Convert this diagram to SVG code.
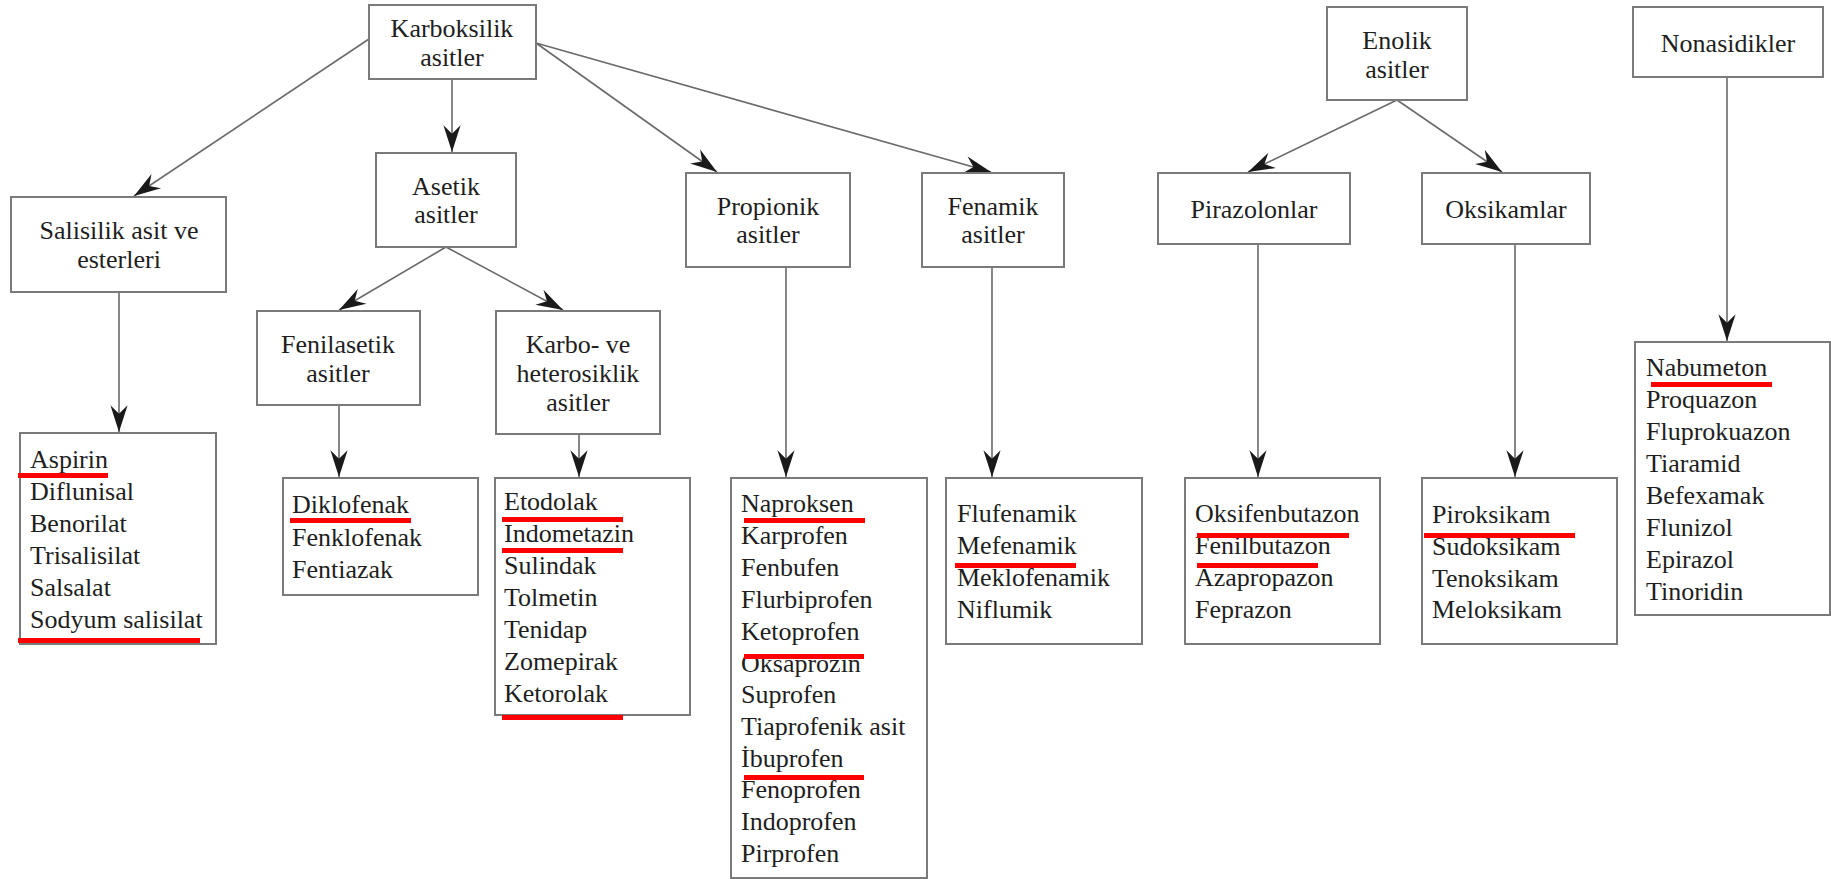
<svg xmlns="http://www.w3.org/2000/svg" width="1831" height="879" viewBox="0 0 1831 879">
  <style>
    .box { fill: #ffffff; stroke: #7a7a7a; stroke-width: 2; }
    .hd { font-family: "Liberation Serif", "Times New Roman", serif; font-size: 26px; fill: #1e1e1e; text-anchor: middle; }
    .it { font-family: "Liberation Serif", "Times New Roman", serif; font-size: 26px; fill: #1e1e1e; }
    .edge { stroke: #6a6a6a; stroke-width: 1.6; fill: none; marker-end: url(#arrow); }
    .mark { fill: #ff0000; }
  </style>
  <defs>
    <marker id="arrow" markerUnits="userSpaceOnUse" markerWidth="30" markerHeight="20" viewBox="-26 -9 28 18" refX="0" refY="0" orient="auto">
      <path d="M0,0 L-25,-8 L-17,0 L-25,8 Z" fill="#1a1a1a"/>
    </marker>
  </defs>
  <rect width="1831" height="879" fill="#ffffff"/>

  <!-- connectors -->
  <g id="connectors">
    <line class="edge" x1="369" y1="39" x2="134" y2="196"/>
    <line class="edge" x1="452" y1="79" x2="452" y2="152"/>
    <line class="edge" x1="536" y1="43" x2="717" y2="172"/>
    <line class="edge" x1="536" y1="43" x2="991" y2="172"/>
    <line class="edge" x1="446" y1="247" x2="339" y2="310"/>
    <line class="edge" x1="446" y1="247" x2="563" y2="310"/>
    <line class="edge" x1="119" y1="292" x2="119" y2="432"/>
    <line class="edge" x1="339" y1="405" x2="339" y2="477"/>
    <line class="edge" x1="579" y1="434" x2="579" y2="477"/>
    <line class="edge" x1="786" y1="267" x2="786" y2="477"/>
    <line class="edge" x1="992" y1="267" x2="992" y2="477"/>
    <line class="edge" x1="1397" y1="100" x2="1248" y2="172"/>
    <line class="edge" x1="1397" y1="100" x2="1502" y2="172"/>
    <line class="edge" x1="1258" y1="244" x2="1258" y2="477"/>
    <line class="edge" x1="1515" y1="244" x2="1515" y2="477"/>
    <line class="edge" x1="1727" y1="77" x2="1727" y2="341"/>
  </g>

  <!-- category nodes -->
  <g id="karboksilik">
    <rect class="box" x="369" y="5" width="167" height="74"/>
    <text class="hd" x="452" y="37">Karboksilik</text>
    <text class="hd" x="452" y="66">asitler</text>
  </g>
  <g id="salisilik">
    <rect class="box" x="11" y="197" width="215" height="95"/>
    <text class="hd" x="119" y="239">Salisilik asit ve</text>
    <text class="hd" x="119" y="268">esterleri</text>
  </g>
  <g id="asetik">
    <rect class="box" x="376" y="153" width="140" height="94"/>
    <text class="hd" x="446" y="195">Asetik</text>
    <text class="hd" x="446" y="223">asitler</text>
  </g>
  <g id="propionik">
    <rect class="box" x="686" y="173" width="164" height="94"/>
    <text class="hd" x="768" y="215">Propionik</text>
    <text class="hd" x="768" y="243">asitler</text>
  </g>
  <g id="fenamik">
    <rect class="box" x="922" y="173" width="142" height="94"/>
    <text class="hd" x="993" y="215">Fenamik</text>
    <text class="hd" x="993" y="243">asitler</text>
  </g>
  <g id="enolik">
    <rect class="box" x="1327" y="7" width="140" height="93"/>
    <text class="hd" x="1397" y="49">Enolik</text>
    <text class="hd" x="1397" y="78">asitler</text>
  </g>
  <g id="nonasidikler">
    <rect class="box" x="1633" y="7" width="190" height="70"/>
    <text class="hd" x="1728" y="52">Nonasidikler</text>
  </g>
  <g id="pirazolonlar">
    <rect class="box" x="1158" y="173" width="192" height="71"/>
    <text class="hd" x="1254" y="218">Pirazolonlar</text>
  </g>
  <g id="oksikamlar">
    <rect class="box" x="1422" y="173" width="168" height="71"/>
    <text class="hd" x="1506" y="218">Oksikamlar</text>
  </g>
  <g id="fenilasetik">
    <rect class="box" x="257" y="311" width="163" height="94"/>
    <text class="hd" x="338" y="353">Fenilasetik</text>
    <text class="hd" x="338" y="382">asitler</text>
  </g>
  <g id="karbo-heterosiklik">
    <rect class="box" x="496" y="311" width="164" height="123"/>
    <text class="hd" x="578" y="353">Karbo- ve</text>
    <text class="hd" x="578" y="382">heterosiklik</text>
    <text class="hd" x="578" y="411">asitler</text>
  </g>

  <!-- drug lists -->
  <g id="list-salisilik">
    <rect class="box" x="20" y="433" width="196" height="211"/>
    <text class="it" x="30" y="468">Aspirin</text>
    <text class="it" x="30" y="500">Diflunisal</text>
    <text class="it" x="30" y="532">Benorilat</text>
    <text class="it" x="30" y="564">Trisalisilat</text>
    <text class="it" x="30" y="596">Salsalat</text>
    <text class="it" x="30" y="628">Sodyum salisilat</text>
    <rect class="mark" x="18" y="473" width="90" height="5"/>
    <rect class="mark" x="18" y="638" width="182" height="5"/>
  </g>
  <g id="list-fenilasetik">
    <rect class="box" x="283" y="478" width="195" height="117"/>
    <text class="it" x="292" y="513">Diklofenak</text>
    <text class="it" x="292" y="546">Fenklofenak</text>
    <text class="it" x="292" y="578">Fentiazak</text>
    <rect class="mark" x="290" y="518" width="121" height="5"/>
  </g>
  <g id="list-heterosiklik">
    <rect class="box" x="495" y="478" width="195" height="237"/>
    <text class="it" x="504" y="510">Etodolak</text>
    <text class="it" x="504" y="542">Indometazin</text>
    <text class="it" x="504" y="574">Sulindak</text>
    <text class="it" x="504" y="606">Tolmetin</text>
    <text class="it" x="504" y="638">Tenidap</text>
    <text class="it" x="504" y="670">Zomepirak</text>
    <text class="it" x="504" y="702">Ketorolak</text>
    <rect class="mark" x="502" y="517" width="121" height="5"/>
    <rect class="mark" x="502" y="548" width="121" height="5"/>
    <rect class="mark" x="502" y="715" width="121" height="5"/>
  </g>
  <g id="list-propionik">
    <rect class="box" x="731" y="478" width="196" height="400"/>
    <text class="it" x="741" y="512">Naproksen</text>
    <text class="it" x="741" y="544">Karprofen</text>
    <text class="it" x="741" y="576">Fenbufen</text>
    <text class="it" x="741" y="608">Flurbiprofen</text>
    <text class="it" x="741" y="640">Ketoprofen</text>
    <text class="it" x="741" y="672">Oksaprozin</text>
    <text class="it" x="741" y="703">Suprofen</text>
    <text class="it" x="741" y="735">Tiaprofenik asit</text>
    <text class="it" x="741" y="767">İbuprofen</text>
    <text class="it" x="741" y="798">Fenoprofen</text>
    <text class="it" x="741" y="830">Indoprofen</text>
    <text class="it" x="741" y="862">Pirprofen</text>
    <rect class="mark" x="744" y="518" width="121" height="5"/>
    <rect class="mark" x="744" y="654" width="120" height="5"/>
    <rect class="mark" x="744" y="775" width="120" height="5"/>
  </g>
  <g id="list-fenamik">
    <rect class="box" x="946" y="478" width="196" height="166"/>
    <text class="it" x="957" y="522">Flufenamik</text>
    <text class="it" x="957" y="554">Mefenamik</text>
    <text class="it" x="957" y="586">Meklofenamik</text>
    <text class="it" x="957" y="618">Niflumik</text>
    <rect class="mark" x="955" y="563" width="121" height="5"/>
  </g>
  <g id="list-pirazolon">
    <rect class="box" x="1185" y="478" width="195" height="166"/>
    <text class="it" x="1195" y="522">Oksifenbutazon</text>
    <text class="it" x="1195" y="554">Fenilbutazon</text>
    <text class="it" x="1195" y="586">Azapropazon</text>
    <text class="it" x="1195" y="618">Feprazon</text>
    <rect class="mark" x="1197" y="533" width="152" height="5"/>
    <rect class="mark" x="1197" y="563" width="121" height="5"/>
  </g>
  <g id="list-oksikam">
    <rect class="box" x="1422" y="478" width="195" height="166"/>
    <text class="it" x="1432" y="523">Piroksikam</text>
    <text class="it" x="1432" y="555">Sudoksikam</text>
    <text class="it" x="1432" y="587">Tenoksikam</text>
    <text class="it" x="1432" y="618">Meloksikam</text>
    <rect class="mark" x="1424" y="533" width="151" height="5"/>
  </g>
  <g id="list-nonasidik">
    <rect class="box" x="1635" y="342" width="195" height="273"/>
    <text class="it" x="1646" y="376">Nabumeton</text>
    <text class="it" x="1646" y="408">Proquazon</text>
    <text class="it" x="1646" y="440">Fluprokuazon</text>
    <text class="it" x="1646" y="472">Tiaramid</text>
    <text class="it" x="1646" y="504">Befexamak</text>
    <text class="it" x="1646" y="536">Flunizol</text>
    <text class="it" x="1646" y="568">Epirazol</text>
    <text class="it" x="1646" y="600">Tinoridin</text>
    <rect class="mark" x="1651" y="382" width="121" height="5"/>
  </g>
</svg>
